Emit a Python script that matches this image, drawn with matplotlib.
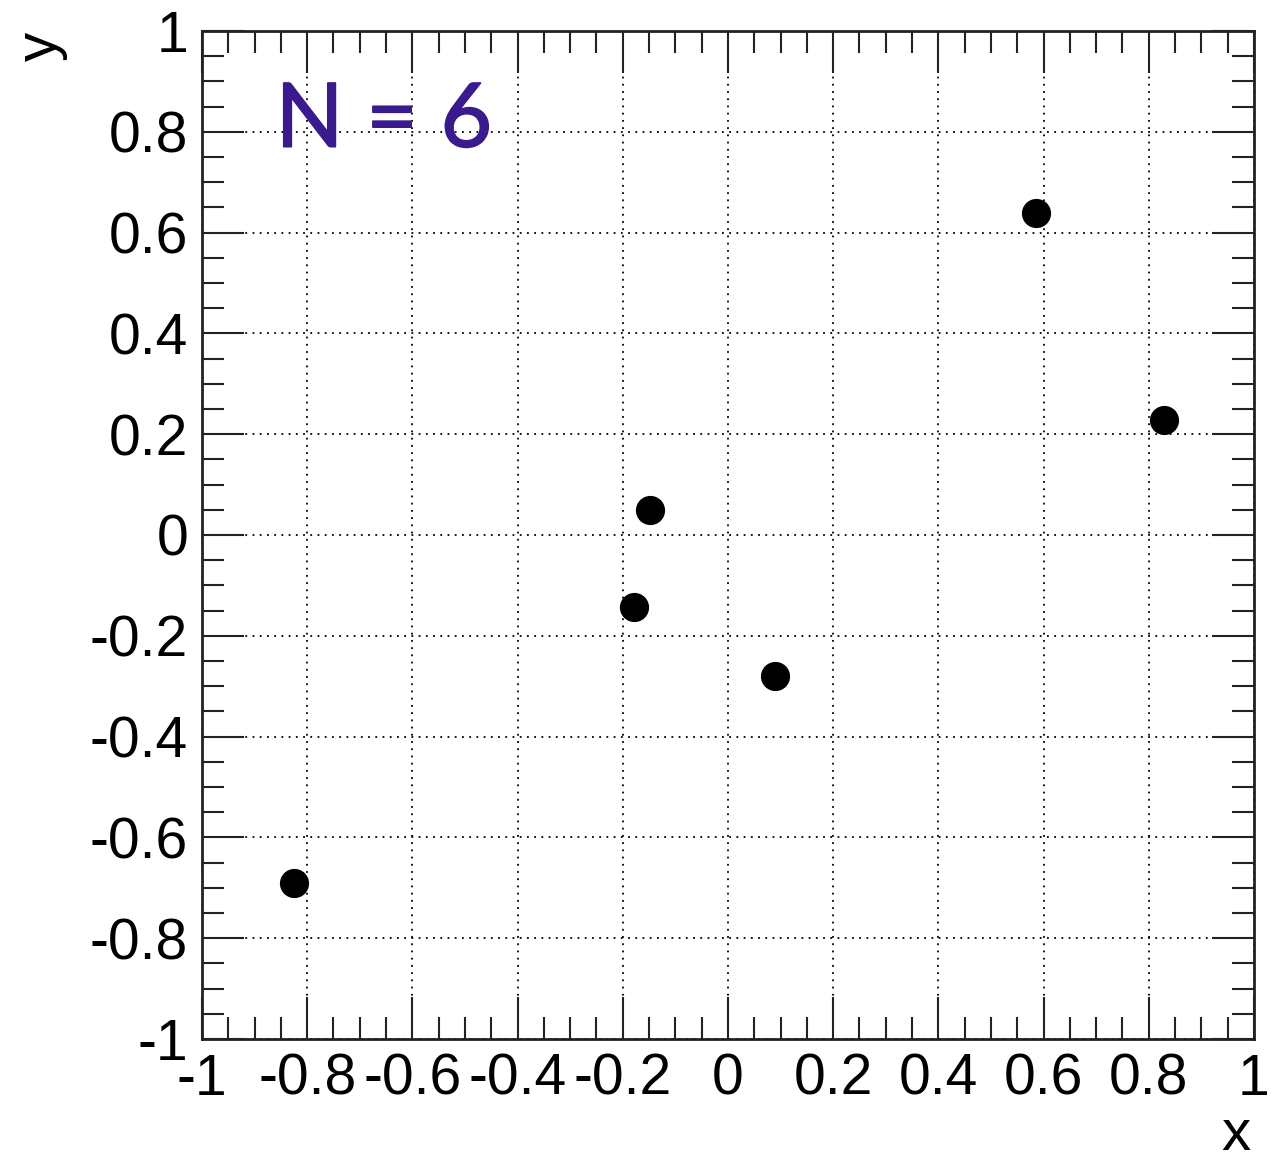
import matplotlib
matplotlib.use("Agg")
import matplotlib.pyplot as plt
import matplotlib.patheffects as pe
from matplotlib.ticker import MultipleLocator

# Sample points
x_vals = [-0.825, -0.178, -0.149, 0.089, 0.585, 0.829]
y_vals = [-0.690, -0.142, 0.050, -0.279, 0.638, 0.229]
x_ticks = [-1, -0.8, -0.6, -0.4, -0.2, 0, 0.2, 0.4, 0.6, 0.8, 1]
x_labels = ["-1", "-0.8", "-0.6", "-0.4", "-0.2", "0", "0.2", "0.4", "0.6", "0.8", "1"]
y_ticks = [-1, -0.8, -0.6, -0.4, -0.2, 0, 0.2, 0.4, 0.6, 0.8, 1]
y_labels = ["-1", "-0.8", "-0.6", "-0.4", "-0.2", "0", "0.2", "0.4", "0.6", "0.8", "1"]
n_text = f"N = {len(x_vals)}"

plt.rcParams['font.family'] = ['Liberation Sans', 'DejaVu Sans']

fig = plt.figure(figsize=(12.72, 11.64), dpi=100)
ax = fig.add_axes([0.1588, 0.1074, 0.8270, 0.8660])

ax.plot(x_vals, y_vals, 'o', color='black', markersize=20, zorder=3)

ax.set_xlim(-1, 1)
ax.set_ylim(-1, 1)
ax.set_xticks(x_ticks)
ax.set_xticklabels(x_labels)
ax.set_yticks(y_ticks)
ax.set_yticklabels(y_labels)
ax.xaxis.set_minor_locator(MultipleLocator(0.05))
ax.yaxis.set_minor_locator(MultipleLocator(0.05))

ax.tick_params(which='both', direction='in', top=True, right=True,
               width=1.5, color='#222222')
ax.tick_params(which='major', length=30, labelsize=41, pad=10)
ax.tick_params(which='minor', length=16)
for sp in ax.spines.values():
    sp.set_linewidth(2)
    sp.set_color('#222222')

ax.grid(True, which='major', linestyle=(0, (1, 3)), color='black', linewidth=1.3)
ax.set_axisbelow(True)

nc = '#3a1a8c'
ax.text(0.07, 0.91, n_text, transform=ax.transAxes, fontsize=64,
        color=nc, family=['Lato', 'DejaVu Sans'], va='center', ha='left',
        path_effects=[pe.Stroke(linewidth=1.2, foreground=nc), pe.Normal()])

fig.text(0.972, 0.025, "x", fontsize=42, ha='center', va='center')
fig.text(0.032, 0.96, "y", fontsize=42, ha='center', va='center', rotation=90)

fig.savefig("out.png", dpi=100)
